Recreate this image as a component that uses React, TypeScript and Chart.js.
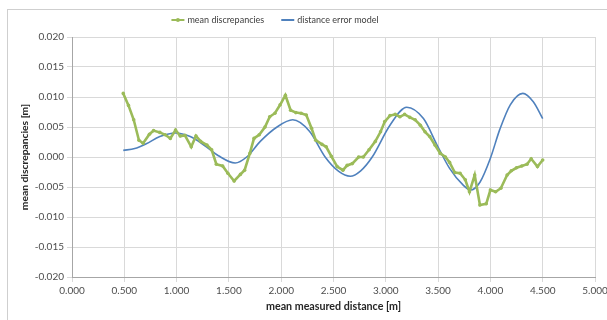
import React, { useEffect, useRef } from "react";
import { Chart, registerables } from "chart.js";

Chart.register(...registerables);

// ---- data ----
const seriesNames = ["mean discrepancies", "distance error model"];

const xTickMin = 0;
const xTickMax = 5;
const xTickStep = 0.5;
const yTickMin = -0.02;
const yTickMax = 0.02;
const yTickStep = 0.005;

const meanDistance = [
  0.49, 0.54, 0.59, 0.64, 0.68, 0.74, 0.78, 0.84, 0.89, 0.94, 0.99, 1.035, 1.08, 1.14, 1.185,
  1.23, 1.29, 1.335, 1.38, 1.44, 1.49, 1.55, 1.61, 1.65, 1.7, 1.74, 1.79, 1.845, 1.89, 1.94,
  1.99, 2.04, 2.09, 2.14, 2.19, 2.24, 2.29, 2.33, 2.39, 2.43, 2.48, 2.535, 2.59, 2.63, 2.68,
  2.74, 2.785, 2.84, 2.9, 2.95, 2.99, 3.04, 3.09, 3.135, 3.18, 3.23, 3.28, 3.33, 3.375, 3.42,
  3.47, 3.52, 3.57, 3.61, 3.66, 3.71, 3.76, 3.8, 3.85, 3.9, 3.96, 4.0, 4.05, 4.1, 4.16, 4.2,
  4.25, 4.3, 4.35, 4.39, 4.45, 4.5,
];
const meanDiscrepancy = [
  0.0106, 0.0086, 0.0062, 0.0028, 0.0023, 0.0038, 0.0044, 0.0041, 0.0037, 0.0031, 0.0045,
  0.0035, 0.0036, 0.0017, 0.0035, 0.0026, 0.002, 0.0012, -0.0012, -0.0015, -0.0027, -0.004,
  -0.0029, -0.0022, 0.0006, 0.0031, 0.0037, 0.005, 0.0067, 0.0073, 0.0087, 0.0103, 0.0078,
  0.0074, 0.0073, 0.007, 0.0048, 0.0028, 0.0021, 0.0017, 0.0001, -0.0016, -0.0022, -0.0014,
  -0.0011, 0.0, 0.0, 0.0012, 0.0026, 0.0042, 0.0059, 0.0069, 0.0071, 0.0067, 0.0071, 0.0066,
  0.0062, 0.0053, 0.0042, 0.0034, 0.002, 0.0006, 0.0, -0.0009, -0.0026, -0.0027, -0.0038,
  -0.0058, -0.003, -0.008, -0.0078, -0.0055, -0.0058, -0.0052, -0.003, -0.0023, -0.0018,
  -0.0015, -0.0012, -0.0003, -0.0016, -0.0005,
];

const modelDistance = [
  0.49, 0.6, 0.71, 0.84, 0.99, 1.13, 1.26, 1.4, 1.56, 1.67, 1.8, 1.96, 2.11, 2.27, 2.42, 2.55,
  2.66, 2.76, 2.87, 3.04, 3.2, 3.36, 3.49, 3.61, 3.74, 3.81, 3.9, 4.0, 4.09, 4.19, 4.31, 4.41,
  4.5,
];
const modelError = [
  0.0011, 0.0014, 0.0022, 0.0034, 0.004, 0.0034, 0.002, 0.0002, -0.001, 0.0, 0.0026, 0.005,
  0.0062, 0.0043, 0.0, -0.0024, -0.0032, -0.0023, 0.0, 0.0053, 0.0083, 0.0064, 0.002, -0.0019,
  -0.0047, -0.0055, -0.0042, -0.0002, 0.0046, 0.0087, 0.0106, 0.0092, 0.0064,
];

const GREEN = "#9BBB59";
const BLUE = "#4F81BD";
const FONT = "Lato";

const legendPlugin = {
  id: "customLegend",
  afterDraw(chart: any) {
    const ctx = chart.ctx as CanvasRenderingContext2D;
    ctx.save();
    ctx.font = `9px ${FONT}`;
    const lineW = 13;
    const gap = 3;
    const itemGap = 17;
    const items = chart.data.datasets.map((ds: any) => ({
      text: ds.label as string,
      color: ds.borderColor as string,
      marker: (ds.pointRadius || 0) > 0,
    }));
    const widths = items.map((it: any) => lineW + gap + ctx.measureText(it.text).width);
    const total = widths.reduce((a: number, b: number) => a + b, 0) + itemGap * (items.length - 1);
    let x = 275 - total / 2;
    const y = 20;
    items.forEach((it: any, i: number) => {
      ctx.strokeStyle = it.color;
      ctx.lineWidth = 2;
      ctx.beginPath();
      ctx.moveTo(x, y);
      ctx.lineTo(x + lineW, y);
      ctx.stroke();
      if (it.marker) {
        ctx.fillStyle = it.color;
        ctx.beginPath();
        ctx.arc(x + lineW / 2, y, 2, 0, Math.PI * 2);
        ctx.fill();
      }
      ctx.fillStyle = "#404040";
      ctx.textBaseline = "middle";
      ctx.textAlign = "left";
      ctx.fillText(it.text, x + lineW + gap, y);
      x += widths[i] + itemGap;
    });
    ctx.restore();
  },
};

export default function App() {
  const canvasRef = useRef<HTMLCanvasElement | null>(null);

  useEffect(() => {
    if (!canvasRef.current) return;
    const chart = new Chart(canvasRef.current, {
      type: "line",
      data: {
        datasets: [
          {
            label: seriesNames[0],
            data: meanDistance.map((d, i) => ({ x: d, y: meanDiscrepancy[i] })),
            borderColor: GREEN,
            backgroundColor: GREEN,
            borderWidth: 2.6,
            pointRadius: 1.8,
            pointBorderWidth: 0,
            pointBackgroundColor: GREEN,
            tension: 0,
          },
          {
            label: seriesNames[1],
            data: modelDistance.map((d, i) => ({ x: d, y: modelError[i] })),
            borderColor: BLUE,
            backgroundColor: BLUE,
            borderWidth: 1.6,
            pointRadius: 0,
            cubicInterpolationMode: "monotone",
          },
        ],
      },
      plugins: [legendPlugin],
      options: {
        animation: false,
        responsive: false,
        maintainAspectRatio: false,
        devicePixelRatio: 1,
        layout: { padding: { top: 37, left: 14, right: 25, bottom: 3 } },
        plugins: {
          legend: { display: false },
          tooltip: { enabled: false },
        },
        scales: {
          x: {
            type: "linear",
            min: xTickMin,
            max: xTickMax,
            afterFit: (scale: any) => {
              scale.height = 40;
            },
            ticks: {
              stepSize: xTickStep,
              maxRotation: 0,
              autoSkip: false,
              color: "#4d4d4d",
              font: { family: FONT, size: 10 },
              padding: 3,
              callback: (v: any) => Number(v).toFixed(3),
            },
            grid: { color: "#d9d9d9", tickLength: 5, tickColor: "#d9d9d9" },
            border: { color: "#a6a6a6" },
            title: {
              display: true,
              text: "mean measured distance [m]",
              color: "#262626",
              font: { family: FONT, size: 10.7, weight: "bold" },
              padding: { top: 0, bottom: 4 },
            },
          },
          y: {
            type: "linear",
            min: yTickMin,
            max: yTickMax,
            afterFit: (scale: any) => {
              scale.width = 58;
            },
            ticks: {
              stepSize: yTickStep,
              color: "#4d4d4d",
              font: { family: FONT, size: 10 },
              padding: 3,
              callback: (v: any) => Number(v).toFixed(3),
            },
            grid: { color: "#d9d9d9", tickLength: 5, tickColor: "#d9d9d9" },
            border: { color: "#a6a6a6" },
            title: {
              display: true,
              text: "mean discrepancies [m]",
              color: "#262626",
              font: { family: FONT, size: 10.3, weight: "bold" },
              padding: { top: 4, bottom: 0 },
            },
          },
        },
      } as any,
    });
    return () => chart.destroy();
  }, []);

  return (
    <div
      style={{
        position: "fixed",
        left: 0,
        top: 0,
        width: 607,
        height: 320,
        overflow: "hidden",
        background: "#ffffff",
      }}
    >
      <div
        style={{
          position: "absolute",
          left: 7,
          top: 9,
          width: 640,
          height: 340,
          border: "1px solid #cfcfcf",
          boxSizing: "border-box",
        }}
      />
      <canvas
        ref={canvasRef}
        width={620}
        height={320}
        style={{ position: "absolute", left: 0, top: 0, width: 620, height: 320, display: "block" }}
      />
    </div>
  );
}
